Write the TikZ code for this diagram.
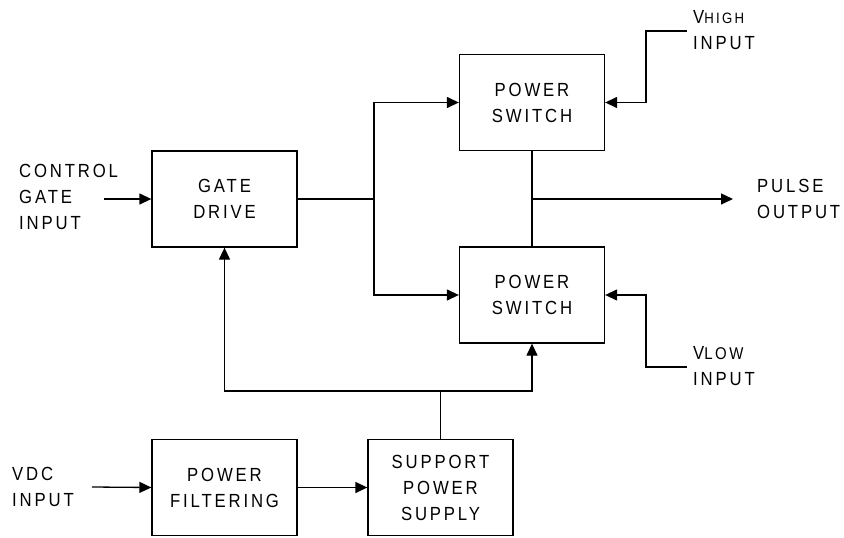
\documentclass[tikz,border=0pt]{standalone}
\usepackage{fontspec}
\setmainfont{Liberation Sans}[LetterSpace=15,FakeStretch=0.88]
\usetikzlibrary{arrows.meta}
\tikzset{
  blk/.style={draw, line width=1.3pt, minimum width=145pt, minimum height=96pt, align=center, inner sep=0pt, font=\fontsize{19}{26}\selectfont},
  lbl/.style={align=left, anchor=west, inner sep=0pt, font=\fontsize{19}{26}\selectfont},
  wire/.style={line width=1.3pt},
  arr/.style={wire, -{Triangle[length=12pt,width=11pt]}}
}
\begin{document}
\begin{tikzpicture}[x=1pt,y=-1pt]
\useasboundingbox (0,0) rectangle (844,538);
\node[blk] (gd) at (224.5,199) {GATE\\DRIVE};
\node[blk] (ps1) at (532,102.5) {POWER\\SWITCH};
\node[blk] (ps2) at (532,295) {POWER\\SWITCH};
\node[blk] (pf) at (224.5,487.5) {POWER\\FILTERING};
\node[blk] (sps) at (440.5,487.5) {SUPPORT\\POWER\\SUPPLY};

\node[lbl] (ctl) at (19,197) {CONTROL\\GATE\\INPUT};
\node[lbl] (vdc) at (12,487) {VDC\\INPUT};
\node[lbl] (out) at (757,199) {PULSE\\OUTPUT};
\node[lbl] (vh) at (693,30) {V{\fontsize{15}{26}\selectfont HIGH}\\INPUT};
\node[lbl] (vl) at (693,366) {V{\fontsize{17}{26}\selectfont LOW}\\INPUT};

\coordinate (ctlA) at (104,199);
\coordinate (vdcA) at (92,487);
\coordinate (j1) at (374,199);
\coordinate (j2) at (532,199);
\coordinate (outA) at (733,199);
\coordinate (vhA) at (687,31);
\coordinate (vhB) at (646,31);
\coordinate (vlA) at (687,367);
\coordinate (vlB) at (646,367);
\coordinate (busL) at (224.5,391);
\coordinate (busM) at (440.5,391);
\coordinate (busR) at (532,391);

\draw[arr] (ctlA) -- (gd.west);
\draw[wire] (gd.east) -- (j1);
\draw[arr] (j1) |- (ps1.west);
\draw[arr] (j1) |- (ps2.west);
\draw[wire] (ps1.south) -- (ps2.north);
\draw[arr] (j2) -- (outA);
\draw[arr] (vhA) -- (vhB) |- (ps1.east);
\draw[arr] (vlA) -- (vlB) |- (ps2.east);
\draw[arr] (vdcA) -- (pf.west);
\draw[arr] (pf.east) -- (sps.west);
\draw[wire] (sps.north) -- (busM);
\draw[arr] (busM) -- (busL) -- (gd.south);
\draw[arr] (busM) -- (busR) -- (ps2.south);
\end{tikzpicture}
\end{document}
